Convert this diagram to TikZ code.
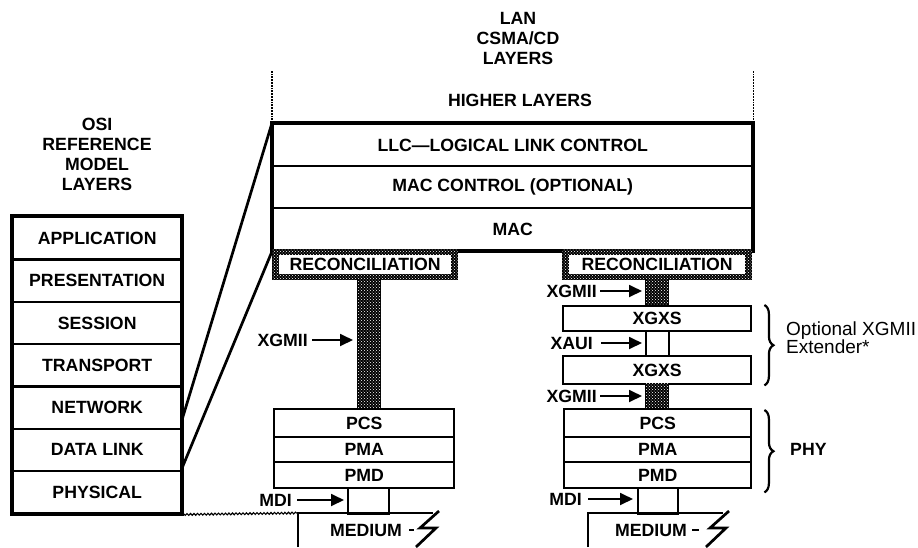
\documentclass[tikz,border=0pt]{standalone}
\usepackage{fontspec}
\setmainfont{Liberation Sans}
\usetikzlibrary{arrows.meta,patterns,decorations.pathreplacing,decorations.pathmorphing,calc}
\begin{document}
\begin{tikzpicture}[x=1pt,y=-1pt,
  lbl/.style={font=\bfseries\fontsize{17.7}{20}\selectfont, inner sep=0pt},
  cell/.style 2 args={draw, line width=2.4pt, minimum width=#1, minimum height=#2, anchor=north west, lbl},
  hatchbox/.style 2 args={fill=black, postaction={pattern=crosshatch dots, pattern color=white}, draw=black, line width=1.2pt, minimum width=#1, minimum height=#2, anchor=north west, inner sep=0pt},
  recin/.style={fill=white, minimum width=172, minimum height=19, lbl},
  plainbox/.style 2 args={draw, line width=2.4pt, minimum width=#1, minimum height=#2, anchor=north west, inner sep=0pt},
  arr/.style={line width=1.8pt, -{Triangle[length=13pt,width=12pt]}},
  bigline/.style={line width=2.7pt},
  dotv/.style={line width=1.8pt, densely dotted},
  wavy/.style={line width=1.1pt, decorate, decoration={snake, amplitude=0.9pt, segment length=3.5pt}},
  brc/.style={line width=2.2pt, decorate, decoration={brace, amplitude=9pt}},
  side/.style={font=\fontsize{19}{18}\selectfont, inner sep=0pt, align=left, anchor=west}]
\useasboundingbox (0,0) rectangle (918,547);

% ---- OSI column ----
\node[lbl, align=center] (osititle) at (97,154) {OSI\\REFERENCE\\MODEL\\LAYERS};
\node[cell={168}{42.3}] (app) at (12,216) {APPLICATION};
\node[cell={168}{42.3}] (pres) at (12,258.3) {PRESENTATION};
\node[cell={168}{42.3}] (ses) at (12,300.6) {SESSION};
\node[cell={168}{42.3}] (trans) at (12,342.9) {TRANSPORT};
\node[cell={168}{42.3}] (net) at (12,385.2) {NETWORK};
\node[cell={168}{42.3}] (dl) at (12,427.5) {DATA LINK};
\node[cell={168}{42.3}] (phys) at (12,469.8) {PHYSICAL};
\draw[line width=3.2pt] (app.north west) rectangle (phys.south east);

% ---- LAN CSMA/CD layers ----
\node[lbl, align=center] (lantitle) at (518,38) {LAN\\CSMA/CD\\LAYERS};
\node[lbl] (higher) at (520,100) {HIGHER LAYERS};
\node[cell={479}{42}] (llc) at (272,123) {LLC---LOGICAL LINK CONTROL};
\node[cell={479}{42}] (macc) at (272,165) {MAC CONTROL (OPTIONAL)};
\node[cell={479}{42}] (mac) at (272,207) {MAC};
\draw[line width=3.2pt] (llc.north west) rectangle (mac.south east);
\draw[dotv] (llc.north west) -- ++(0,-53);
\draw[dotv] (llc.north east) -- ++(0,-53);

% OSI to LAN connectors
\draw[bigline] (llc.north west) -- ($(dl.north east)+(0,-9)$);
\draw[bigline] (mac.south west) -- ($(dl.south east)+(0,-5)$);

% ---- left PHY column ----
\node[hatchbox={185}{30}] (rec1o) at (272,249) {};
\node[recin] (rec1) at (rec1o.center) {RECONCILIATION};
\node[hatchbox={23}{129}] (bar1) at (357,279) {};
\node[cell={180}{28}] (pcs1) at (273,408) {PCS};
\node[cell={180}{25}] (pma1) at (273,436) {PMA};
\node[cell={180}{26}] (pmd1) at (273,461) {PMD};
\node[plainbox={41}{26}] (mdi1) at (347,487) {};
\node[lbl, anchor=east] (xg1) at (308,340) {XGMII};
\draw[arr] ([xshift=4pt]xg1.east) -- ([xshift=-4pt]xg1.east -| bar1.west);
\node[lbl, anchor=east] (mdil1) at (292,500) {MDI};
\draw[arr] ([xshift=5pt]mdil1.east) -- ([xshift=-3pt]mdil1.east -| mdi1.west);
\coordinate (m1) at (298,513);
\coordinate (m1b) at (298,547);
\draw[bigline] (m1b) -- (m1) -- (433,513);
\draw[bigline] (439,511) -- (420,528) -- (436,528) -- (416,547);
\node[lbl] (med1) at (366,530) {MEDIUM};
\draw[line width=2pt] (409,530) -- (414,530);
\draw[wavy] (phys.south east) -- (m1);

% ---- right PHY column ----
\node[hatchbox={189}{30}] (rec2o) at (562,249) {};
\node[recin, minimum width=176] (rec2) at (rec2o.center) {RECONCILIATION};
\node[hatchbox={23}{26}] (bar2) at (645,279) {};
\node[cell={188}{25}] (xgxs1) at (562,305) {XGXS};
\node[plainbox={23}{25}] (xaui) at (645,330) {};
\node[cell={188}{28}] (xgxs2) at (562,355) {XGXS};
\node[hatchbox={23}{25}] (bar3) at (645,383) {};
\node[cell={187}{28}] (pcs2) at (563,408) {PCS};
\node[cell={187}{25}] (pma2) at (563,436) {PMA};
\node[cell={187}{26}] (pmd2) at (563,461) {PMD};
\node[plainbox={40}{26}] (mdi2) at (637,487) {};
\node[lbl, anchor=east] (xg2) at (597,291) {XGMII};
\draw[arr] ([xshift=3pt]xg2.east) -- ([xshift=-3pt]xg2.east -| bar2.west);
\node[lbl, anchor=east] (xauil) at (593,343) {XAUI};
\draw[arr] ([xshift=8pt]xauil.east) -- ([xshift=-3pt]xauil.east -| xaui.west);
\node[lbl, anchor=east] (xg3) at (597,396) {XGMII};
\draw[arr] ([xshift=3pt]xg3.east) -- ([xshift=-3pt]xg3.east -| bar3.west);
\node[lbl, anchor=east] (mdil2) at (582,499) {MDI};
\draw[arr] ([xshift=6pt]mdil2.east) -- ([xshift=-4pt]mdil2.east -| mdi2.west);
\coordinate (m2) at (588,513);
\coordinate (m2b) at (588,547);
\draw[bigline] (m2b) -- (m2) -- (723,513);
\draw[bigline] (729,511) -- (710,528) -- (726,528) -- (706,547);
\node[lbl] (med2) at (651,530) {MEDIUM};
\draw[line width=2pt] (692,530) -- (699,530);

% braces
\draw[brc] ($(xgxs1.north east)+(12,0)$) -- ($(xgxs2.south east)+(12,0)$);
\node[side] (ext) at (786,338) {Optional XGMII\\Extender*};
\draw[brc] ($(pcs2.north east)+(12,2)$) -- ($(pmd2.south east)+(12,3)$);
\node[lbl, anchor=west] (phy) at (790,449) {PHY};
\end{tikzpicture}
\end{document}
